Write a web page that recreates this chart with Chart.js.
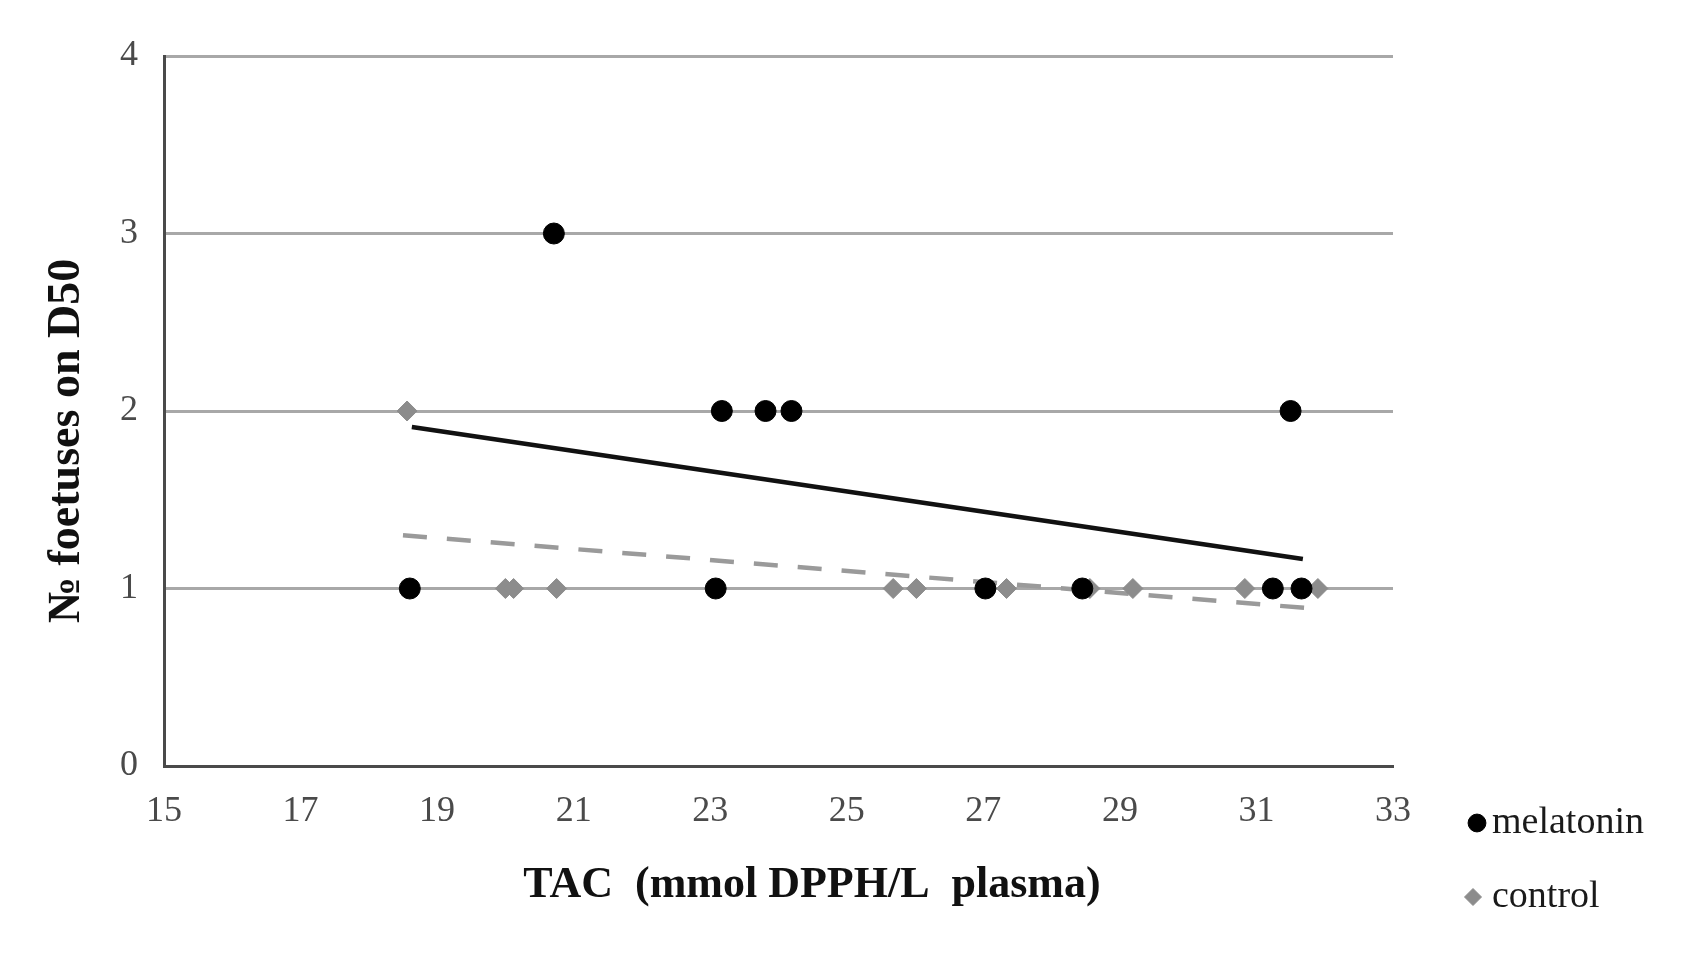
<!DOCTYPE html>
<html>
<head>
<meta charset="utf-8">
<script src="https://cdn.jsdelivr.net/npm/chart.js@4/dist/chart.umd.min.js"></script>
<style>
  html, body { margin: 0; padding: 0; background: #fff; }
  canvas { display: block; }
</style>
</head>
<body>
<canvas id="myChart" width="1704" height="954"></canvas>
<script>
'use strict';

// values
const melatoninTAC = [18.6, 23.08, 27.03, 28.45, 31.24, 31.66, 23.17, 23.81, 24.19, 31.5, 20.71];
const melatoninFoetuses = [1, 1, 1, 1, 1, 1, 2, 2, 2, 2, 3];
const controlTAC = [18.56, 20.0, 20.12, 20.75, 25.68, 26.02, 27.34, 28.56, 29.19, 30.83, 31.9];
const controlFoetuses = [2, 1, 1, 1, 1, 1, 1, 1, 1, 1, 1];

// trend line end points as drawn in the picture
const melatoninTrendX = [18.63, 31.68];
const melatoninTrendY = [1.91, 1.166];
const controlTrendX = [18.5, 31.9];
const controlTrendY = [1.30, 0.885];

const xTicks = [15, 17, 19, 21, 23, 25, 27, 29, 31, 33];
const yTicks = [0, 1, 2, 3, 4];

const seriesNames = ['melatonin', 'control'];
const xTitle = 'TAC  (mmol DPPH/L  plasma)';
const yTitle = '№ foetuses on D50';

const toPoints = (xs, ys) => xs.map((x, i) => ({ x: x, y: ys[i] }));

const serif = "'Liberation Serif', 'DejaVu Serif', serif";

// axis titles and a legend that sits below-right of the plot, like the original
const titlesAndLegend = {
    id: 'titlesAndLegend',
    afterDraw(chart) {
        const c = chart.ctx;
        const sets = chart.data.datasets;

        [[0, 1477, 823], [1, 1473, 897]].forEach(([i, x, y]) => {
            c.save();
            c.fillStyle = sets[i].backgroundColor;
            c.strokeStyle = sets[i].borderColor;
            Chart.helpers.drawPoint(c, {
                pointStyle: sets[i].pointStyle,
                radius: sets[i].pointRadius * 0.85,
                borderWidth: 1
            }, x, y);
            c.fillStyle = '#1a1a1a';
            c.font = '38px ' + serif;
            c.textAlign = 'left';
            c.textBaseline = 'middle';
            c.fillText(sets[i].label, 1492, y);
            c.restore();
        });

        c.save();
        c.fillStyle = '#111';
        c.textAlign = 'center';
        c.textBaseline = 'middle';
        c.font = 'bold 44px ' + serif;
        c.fillText(xTitle, 812, 886);
        c.translate(67, 441);
        c.rotate(-Math.PI / 2);
        c.font = 'bold 46px ' + serif;
        c.fillText(yTitle, 0, 0);
        c.restore();
    }
};

const ctx = document.getElementById('myChart').getContext('2d');

new Chart(ctx, {
    type: 'scatter',
    data: {
        datasets: [
            {
                label: seriesNames[0],
                data: toPoints(melatoninTAC, melatoninFoetuses),
                backgroundColor: '#000000',
                borderColor: '#000000',
                pointStyle: 'circle',
                pointRadius: 10.5,
                order: 1
            },
            {
                label: seriesNames[1],
                data: toPoints(controlTAC, controlFoetuses),
                backgroundColor: '#8c8c8c',
                borderColor: '#8c8c8c',
                pointStyle: 'rectRot',
                pointRadius: 10,
                order: 2
            },
            {
                type: 'line',
                label: 'melatonin trend',
                data: toPoints(melatoninTrendX, melatoninTrendY),
                borderColor: '#111111',
                borderWidth: 4.5,
                pointRadius: 0,
                fill: false,
                order: 3
            },
            {
                type: 'line',
                label: 'control trend',
                data: toPoints(controlTrendX, controlTrendY),
                borderColor: '#9a9a9a',
                borderWidth: 4.5,
                borderDash: [24, 20],
                pointRadius: 0,
                fill: false,
                order: 4
            }
        ]
    },
    options: {
        responsive: false,
        animation: false,
        devicePixelRatio: 1,
        layout: {
            padding: { left: 0, top: 56, right: 311, bottom: 0 }
        },
        plugins: {
            legend: { display: false },
            tooltip: { enabled: false }
        },
        scales: {
            x: {
                type: 'linear',
                min: xTicks[0],
                max: xTicks[xTicks.length - 1],
                afterBuildTicks: scale => { scale.ticks = xTicks.map(v => ({ value: v })); },
                afterFit: scale => { scale.height = 188; },
                grid: { display: false, drawTicks: false },
                border: { color: '#4a4a4a', width: 3 },
                ticks: {
                    padding: 24,
                    color: '#4a4a4a',
                    font: { family: serif, size: 36 }
                }
            },
            y: {
                type: 'linear',
                min: yTicks[0],
                max: yTicks[yTicks.length - 1],
                afterBuildTicks: scale => { scale.ticks = yTicks.map(v => ({ value: v })); },
                afterFit: scale => { scale.width = 164; },
                grid: { color: '#a8a8a8', lineWidth: 3, drawTicks: false },
                border: { color: '#4a4a4a', width: 3 },
                ticks: {
                    padding: 26,
                    color: '#4a4a4a',
                    font: { family: serif, size: 36 }
                }
            }
        }
    },
    plugins: [titlesAndLegend]
});
</script>
</body>
</html>
